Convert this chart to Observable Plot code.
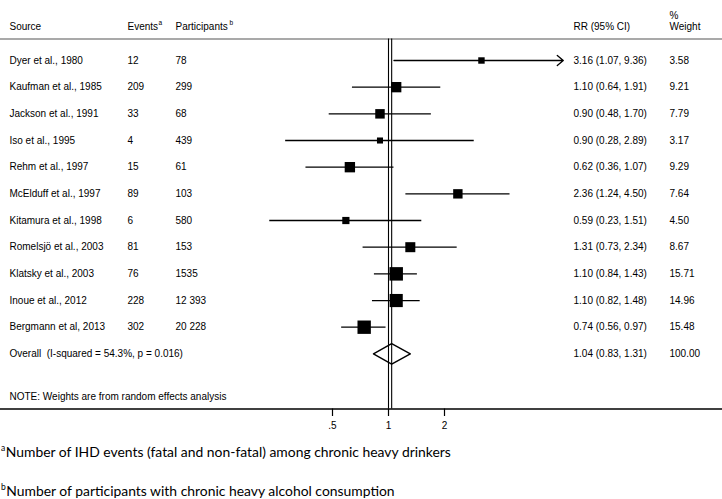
<!DOCTYPE html>
<html><head><meta charset="utf-8">
<script src="https://cdn.jsdelivr.net/npm/d3@7"></script>
<script src="https://cdn.jsdelivr.net/npm/@observablehq/plot@0.6"></script>
<style>
body{margin:0;background:#fff;}
#wrap{position:relative;width:722px;height:499px;overflow:hidden;background:#fff;}
#wrap svg{position:absolute;left:0;top:0;}
#wrap svg text{font-family:"Liberation Sans",Arial,sans-serif;}
.fn{position:absolute;left:1px;font-family:Lato,"Open Sans",sans-serif;font-size:13.9px;color:#000;white-space:nowrap;line-height:16px;}
.fn sup{font-size:8.5px;vertical-align:0;position:relative;top:-6px;margin-right:0.5px;}
</style></head><body><div id="wrap"></div>
<script>
// ---- data ----
const sources = ["Dyer et al., 1980","Kaufman et al., 1985","Jackson et al., 1991","Iso et al., 1995","Rehm et al., 1997","McElduff et al., 1997","Kitamura et al., 1998","Romelsjö et al., 2003","Klatsky et al., 2003","Inoue et al., 2012","Bergmann et al, 2013"];
const events = [12,209,33,4,15,89,6,81,76,228,302];
const participants = ["78","299","68","439","61","103","580","153","1535","12 393","20 228"];
const rr = [3.16,1.10,0.90,0.90,0.62,2.36,0.59,1.31,1.10,1.10,0.74];
const lower = [1.07,0.64,0.48,0.28,0.36,1.24,0.23,0.73,0.84,0.82,0.56];
const upper = [9.36,1.91,1.70,2.89,1.07,4.50,1.51,2.34,1.43,1.48,0.97];
const weights = [3.58,9.21,7.79,3.17,9.29,7.64,4.50,8.67,15.71,14.96,15.48];
const overallRR = 1.04, overallLower = 0.83, overallUpper = 1.31, overallWeight = 100.00;
const overallLabel = "Overall\u00a0 (I-squared = 54.3%, p = 0.016)";
const noteLabel = "NOTE: Weights are from random effects analysis";
const headers = ["Source","Events","Participants","RR (95% CI)","Weight","%"];
const xTicks = [0.5, 1, 2];
const xTickLabels = [".5", "1", "2"];
const clipMax = 8.7; // display limit of the x axis (CI beyond is drawn as arrow)
const footnotes = ["Number of IHD events (fatal and non-fatal) among chronic heavy drinkers","Number of participants with chronic heavy alcohol consumption"];
const footMarks = ["a","b"];

// ---- layout ----
const W = 722, H = 440;
const nullPx = 388, pxPerDoubling = 56;
const xDomain = [2 ** (-nullPx / pxPerDoubling), 2 ** ((W - nullPx) / pxPerDoubling)];
const rowPx = 26.67, firstRowPx = 60, axisPx = 408.5;
const yDomain = [-firstRowPx / rowPx, (axisPx - firstRowPx) / rowPx];
const yBottom = yDomain[1];
const headerLineY = (38.5 - firstRowPx) / rowPx;
const headerTextY = (26.5 - firstRowPx) / rowPx;
const pctY = (15 - firstRowPx) / rowPx;
const noteY = (396 - firstRowPx) / rowPx;
const overallRow = sources.length;
const fmt = v => v.toFixed(2);

const rows = sources.map((s, i) => ({
  i, source: s, events: String(events[i]), participants: participants[i],
  rr: rr[i], lo: lower[i], hi: upper[i], w: weights[i],
  label: `${fmt(rr[i])} (${fmt(lower[i])}, ${fmt(upper[i])})`, wl: fmt(weights[i])
}));
const inRange = rows.filter(d => d.hi <= clipMax);
const clipped = rows.filter(d => d.hi > clipMax);
const overall = [{i: overallRow, source: overallLabel, label: `${fmt(overallRR)} (${fmt(overallLower)}, ${fmt(overallUpper)})`, wl: fmt(overallWeight)}];
const dh = 10.3 / rowPx;
const diamond = [
  {x: overallLower, y: overallRow}, {x: overallRR, y: overallRow - dh},
  {x: overallUpper, y: overallRow}, {x: overallRR, y: overallRow + dh}
];
const tickData = xTicks.map((v, k) => ({v, label: xTickLabels[k]}));

const font = '"Liberation Sans", Arial, sans-serif';
const txt = (data, opts) => Plot.text(data, {frameAnchor: "left", textAnchor: "start", fontSize: 10, fontFamily: font, fill: "#000", ...opts});
const one = (s) => [s];

const chart = Plot.plot({
  width: W, height: H,
  marginLeft: 0, marginRight: 0, marginTop: 0, marginBottom: H - axisPx,
  style: {fontFamily: font, fontSize: "10px", background: "transparent", color: "#000"},
  x: {type: "log", domain: xDomain, axis: null},
  y: {domain: yDomain, reverse: true, axis: null},
  r: {type: "sqrt", domain: [0, 16], range: [0, 3.4 * 4 / Math.sqrt(Math.PI)]},
  marks: [
    Plot.ruleY([headerLineY], {stroke: "#8c8c8c", strokeWidth: 1.3}),
    Plot.ruleX([1, overallRR], {y1: headerLineY, y2: yBottom, stroke: "#000", strokeWidth: 1.1}),
    Plot.ruleY(inRange, {y: "i", x1: "lo", x2: "hi", stroke: "#000", strokeWidth: 1.3}),
    Plot.arrow(clipped, {x1: "lo", x2: () => clipMax, y1: "i", y2: "i", stroke: "#000", strokeWidth: 1.3, headLength: 9, headAngle: 80}),
    Plot.dot(rows, {x: "rr", y: "i", r: "w", symbol: "square", fill: "#000", stroke: "none"}),
    Plot.line(diamond, {x: "x", y: "y", curve: "linear-closed", stroke: "#000", strokeWidth: 1.4, fill: "none"}),
    Plot.ruleY([yBottom], {stroke: "#000", strokeWidth: 1.6}),
    Plot.ruleX(tickData, {x: "v", y1: () => yBottom, y2: () => yBottom + 7.5 / rowPx, stroke: "#000", strokeWidth: 1.2}),
    Plot.text(tickData, {x: "v", text: "label", frameAnchor: "bottom", dy: 20, fontSize: 10, fontFamily: font, fill: "#000", textAnchor: "middle"}),
    // headers
    txt(one(headers[0]), {text: d => d, y: () => headerTextY, dx: 9}),
    txt(one(headers[1]), {text: d => d, y: () => headerTextY, dx: 127}),
    txt(one(footMarks[0]), {text: d => d, y: () => headerTextY, dx: 158, dy: -4, fontSize: 6.5}),
    txt(one(headers[2]), {text: d => d, y: () => headerTextY, dx: 175}),
    txt(one(footMarks[1]), {text: d => d, y: () => headerTextY, dx: 229, dy: -4, fontSize: 6.5}),
    txt(one(headers[3]), {text: d => d, y: () => headerTextY, dx: 573}),
    txt(one(headers[4]), {text: d => d, y: () => headerTextY, dx: 669}),
    txt(one(headers[5]), {text: d => d, y: () => pctY, dx: 669}),
    // columns
    txt(rows, {text: "source", y: "i", dx: 9}),
    txt(rows, {text: "events", y: "i", dx: 127}),
    txt(rows, {text: "participants", y: "i", dx: 175}),
    txt(rows, {text: "label", y: "i", dx: 573}),
    txt(rows, {text: "wl", y: "i", dx: 669}),
    txt(overall, {text: "source", y: "i", dx: 9}),
    txt(overall, {text: "label", y: "i", dx: 573}),
    txt(overall, {text: "wl", y: "i", dx: 669}),
    txt(one(noteLabel), {text: d => d, y: () => noteY, dx: 9})
  ]
});

const wrap = document.getElementById("wrap");
wrap.appendChild(chart);
const footTops = [444, 483];
footnotes.forEach((t, k) => {
  const div = document.createElement("div");
  div.className = "fn";
  div.style.top = footTops[k] + "px";
  const sup = document.createElement("sup");
  sup.textContent = footMarks[k];
  div.appendChild(sup);
  div.appendChild(document.createTextNode(t));
  wrap.appendChild(div);
});
</script></body></html>
